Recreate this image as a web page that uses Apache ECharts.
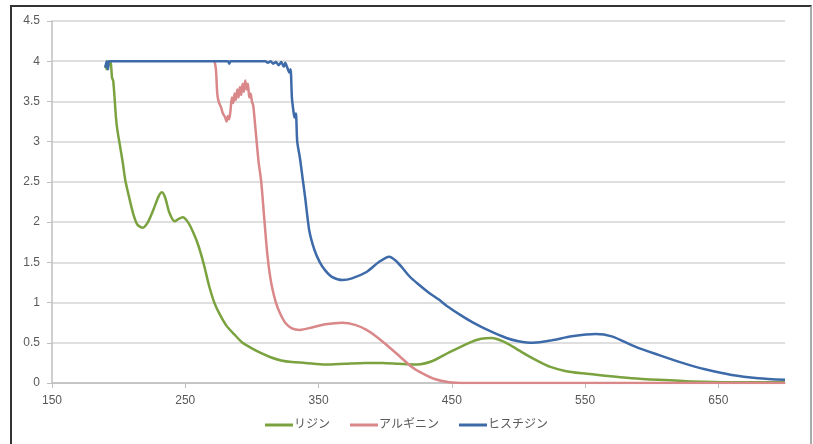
<!DOCTYPE html>
<html>
<head>
<meta charset="utf-8">
<script src="https://cdn.jsdelivr.net/npm/echarts@6/dist/echarts.min.js"></script>
<style>
html,body{margin:0;padding:0;background:#fff;}
#wrap{position:relative;width:813px;height:444px;overflow:hidden;}
#chart{position:absolute;left:0;top:0;width:813px;height:444px;}
#frame{position:absolute;left:10px;top:5px;width:798px;height:460px;border-top:2px solid #333;border-left:2px solid #333;border-right:2px solid #aaa;pointer-events:none;}
</style>
</head>
<body>
<div id="wrap"><div id="chart"></div><div id="frame"></div></div>
<script>
// Series names (legend)
const seriesNames = ['リジン', 'アルギニン', 'ヒスチジン'];
// Axis ticks
const xTicks = [150, 250, 350, 450, 550, 650];
const yTicks = [0, 0.5, 1, 1.5, 2, 2.5, 3, 3.5, 4, 4.5];

// リジン (lysine) [wavelength, absorbance]
const lysine = [
 [190,3.95],[191,3.9],[192,4],[193,3.95],[194,4],[195,3.8],[196,3.75],[198,3.3],[199,3.15],
 [201,2.95],[203,2.75],[205,2.52],[208,2.3],[211,2.1],[214,1.97],[218,1.93],[222,2.0],
 [226,2.15],[230,2.32],[232.5,2.37],[235,2.3],[238,2.12],[242,2.01],[245,2.04],[248,2.06],
 [252,2.0],[256,1.87],[260,1.7],[264,1.47],[268,1.2],[272,0.99],[276,0.85],[281,0.71],
 [287,0.6],[293,0.5],[300,0.43],[307,0.37],[314,0.32],[322,0.28],[330,0.26],[340,0.25],
 [355,0.23],[370,0.24],[385,0.25],[398,0.25],[410,0.24],[424,0.23],[435,0.27],[448,0.38],
 [463,0.5],[472,0.55],[480,0.56],[488,0.52],[496,0.45],[506,0.35],[515,0.27],[524,0.2],
 [535,0.15],[548,0.12],[565,0.09],[585,0.06],[605,0.04],[630,0.02],[660,0.01],[700,0.01]
];
// アルギニン (arginine)
const arginine = [
 [272,4],[273,3.9],[274,3.6],[275,3.5],[277,3.42],[278,3.36],[280,3.3],[281,3.25],[282,3.32],
 [283,3.28],[284,3.4],[285,3.55],[286,3.48],[287,3.6],[288,3.52],[289,3.65],[290,3.55],
 [291,3.68],[292,3.58],[293,3.72],[294,3.62],[295,3.76],[296,3.65],[297,3.72],[298,3.55],
 [299,3.6],[300,3.5],[301,3.45],[303,3.1],[305,2.75],[307,2.5],[309,2.1],[311,1.7],[313,1.4],
 [315,1.2],[318,1.0],[321,0.87],[325,0.75],[330,0.68],[336,0.66],[345,0.69],[355,0.73],
 [368,0.75],[378,0.72],[386,0.66],[394,0.57],[402,0.46],[411,0.33],[420,0.2],[428,0.12],
 [437,0.05],[448,0.01],[460,0],[550,0],[700,0]
];
// ヒスチジン (histidine)
const histidine = [
 [190,3.92],[191,4],[192,3.9],[193,4],[230,4],[282,4],[283,3.97],[284,4],[310,4],[312,3.98],
 [314,4],[316,3.97],[318,3.99],[320,3.95],[322,3.99],[324,3.93],[325,3.98],[327,3.9],
 [328,3.86],[329,3.9],[330,3.55],[331,3.4],[332,3.3],[333,3.35],[334,3.0],[336,2.8],
 [338,2.55],[340,2.3],[343,1.9],[347,1.65],[351,1.5],[355,1.4],[360,1.32],[368,1.28],
 [375,1.3],[386,1.38],[395,1.5],[403,1.57],[408,1.52],[413,1.43],[418,1.33],[424,1.24],
 [433,1.12],[440,1.04],[446,0.96],[456,0.85],[466,0.75],[478,0.65],[491,0.56],[500,0.52],
 [511,0.5],[525,0.53],[540,0.58],[558,0.61],[570,0.58],[588,0.45],[605,0.35],[623,0.25],
 [640,0.17],[660,0.1],[680,0.06],[700,0.04]
];

const colors = ['#7aa23f', '#d98789', '#3d6aa9'];
const chart = echarts.init(document.getElementById('chart'), null, {renderer: 'canvas'});
const font = '"Liberation Sans", "Noto Sans CJK JP", sans-serif';
const mk = (name, data, c) => ({
  name, type: 'line', data, showSymbol: false, smooth: 0.25,
  lineStyle: {color: c, width: 2.5}, itemStyle: {color: c}, z: 3
});
chart.setOption({
  animation: false,
  color: colors,
  grid: {left: 52, right: 28, top: 21, bottom: 61, containLabel: false},
  xAxis: {
    type: 'value', min: xTicks[0], max: 700, interval: xTicks[1] - xTicks[0],
    axisLine: {show: true, lineStyle: {color: '#bfbfbf', width: 1.5}},
    axisTick: {show: true, length: 5, lineStyle: {color: '#bfbfbf'}},
    axisLabel: {color: '#595959', fontSize: 12, fontFamily: font, margin: 12, showMaxLabel: false,
      formatter: v => xTicks.includes(v) ? String(v) : ''},
    splitLine: {show: false}
  },
  yAxis: {
    type: 'value', min: yTicks[0], max: yTicks[yTicks.length - 1], interval: yTicks[1] - yTicks[0],
    axisLine: {show: true, lineStyle: {color: '#bfbfbf', width: 1.5}},
    axisTick: {show: true, length: 5, lineStyle: {color: '#bfbfbf'}},
    axisLabel: {color: '#595959', fontSize: 12, fontFamily: font, margin: 12},
    splitLine: {show: true, lineStyle: {color: '#d4d4d4', width: 1.5}}
  },
  legend: {
    bottom: 8, left: 'center', icon: 'rect', itemWidth: 28, itemHeight: 3, itemGap: 20,
    textStyle: {color: '#595959', fontSize: 12, fontFamily: font, padding: [0, 0, 0, -4]},
    data: seriesNames
  },
  series: [
    mk(seriesNames[0], lysine, colors[0]),
    mk(seriesNames[1], arginine, colors[1]),
    mk(seriesNames[2], histidine, colors[2])
  ]
});
</script>
</body>
</html>
